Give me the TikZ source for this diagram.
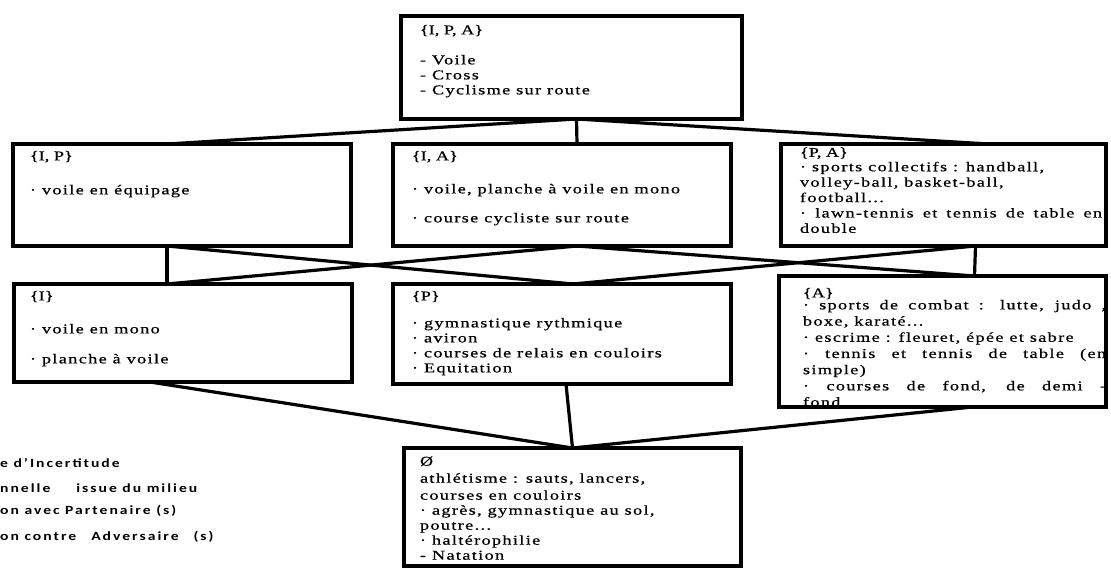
\documentclass[tikz,border=0pt]{standalone}
\usepackage{fontspec}
\setmainfont{Liberation Serif}
\newfontfamily\boxfont[FakeStretch=1.35,LetterSpace=10,FakeBold=0.6]{Liberation Serif}
\newfontfamily\hdfont[FakeStretch=1.35,FakeBold=0.6]{Liberation Serif}
\newfontfamily\legfont[FakeStretch=1.25,LetterSpace=16]{Carlito Bold}
\tikzset{
  box/.style={draw, line width=4pt, inner sep=0pt, outer sep=0pt, anchor=north west},
  txt/.style={inner sep=0pt, outer sep=0pt, anchor=north west, align=left, font=\boxfont\fontsize{13.5}{15}\selectfont},
  link/.style={line width=3.2pt},
  leg/.style={inner sep=0pt, anchor=base west, font=\legfont\fontsize{12.5}{15}\selectfont}
}
\begin{document}
\begin{tikzpicture}[x=1pt,y=-1pt]
\useasboundingbox (0,0) rectangle (1111,570);
% boxes
\node[box, minimum width=341pt, minimum height=103pt] (ipa) at (401,16) {};
\node[box, minimum width=338pt, minimum height=102pt] (ip) at (13,144) {};
\node[box, minimum width=338pt, minimum height=102pt] (ia) at (393,144) {};
\node[box, minimum width=325pt, minimum height=102pt] (pa) at (781,144) {};
\node[box, minimum width=338pt, minimum height=98pt] (i) at (14,284) {};
\node[box, minimum width=338pt, minimum height=100pt] (p) at (393,284) {};
\node[box, minimum width=327pt, minimum height=131pt] (a) at (779,276) {};
\node[box, minimum width=337pt, minimum height=118pt] (o) at (404,448) {};
% texts
\node[txt] (tipa) at (420,25) {{\hdfont\{I, P, A\}}\\[15pt]- Voile\\- Cross\\- Cyclisme sur route};
\node[txt] (tip) at (30,151) {{\hdfont\{I, P\}}\\[19pt]· voile en équipage};
\node[txt] (tia) at (412,151) {{\hdfont\{I, A\}}\\[18pt]· voile, planche à voile en mono\\[14pt]· course cycliste sur route};
\node[txt, font=\boxfont\fontsize{13.5}{15.4}\selectfont, text width=302pt, align=justify] (tpa) at (800,147.5) {{\hdfont\{P, A\}}\\[-1pt]· sports collectifs : handball,\\volley-ball, basket-ball,\\football...\\· lawn-tennis et tennis de table en\linebreak double};
\node[txt] (ti) at (30,291) {{\hdfont\{I\}}\\[18pt]· voile en mono\\[15pt]· planche à voile};
\node[txt] (tp) at (412,291) {{\hdfont\{P\}}\\[12pt]· gymnastique rythmique\\· aviron\\· courses de relais en couloirs\\· Equitation};
\node[txt, font=\boxfont\fontsize{13.5}{16.2}\selectfont, text width=303pt, align=justify] (ta) at (803,288) {{\hdfont\{A\}}\\[-4.2pt]· sports de combat : lutte, judo ,\linebreak boxe, karaté...\\· escrime : fleuret, épée et sabre\\· tennis et tennis de table (en\linebreak simple)\\· courses de fond, de demi -\linebreak fond};
\node[txt] (to) at (420,456.5) {Ø\\[2pt]athlétisme : sauts, lancers,\\[2pt]courses en couloirs\\· agrès, gymnastique au sol,\\poutre...\\· haltérophilie\\- Natation};
% redraw A box border over overflowing text
\draw[line width=4pt] (a.south west) -- (a.south east);
% connectors top
\coordinate (jt) at ([xshift=5pt]ipa.south);
\draw[link] (jt) -- ([xshift=-15pt]ip.north);
\draw[link] (jt) -- ([xshift=15pt]ia.north);
\draw[link] (jt) -- ([xshift=45pt]pa.north);
% connectors middle
\draw[link] ([xshift=-15pt]ip.south) -- ([xshift=-16pt]i.north);
\draw[link] ([xshift=-15pt]ip.south) -- ([xshift=11pt]p.north);
\draw[link] ([xshift=15pt]ia.south) -- ([xshift=-16pt]i.north);
\draw[link] ([xshift=15pt]ia.south) -- ([xshift=32pt]a.north);
\draw[link] ([xshift=32pt]pa.south) -- ([xshift=32pt]a.north);
\draw[link] ([xshift=32pt]pa.south) -- ([xshift=11pt]p.north);
% connectors bottom
\draw[link] ([xshift=-33pt]i.south) -- (o.north);
\draw[link] ([xshift=4pt]p.south) -- (o.north);
\draw[link] ([xshift=30pt]a.south) -- (o.north);
% legend
\node[leg] (l1) at (0,467) {e d’Incertitude};
\node[leg] (l2) at (0,492) {nnelle\hspace{26pt}issue du milieu};
\node[leg] (l3) at (0,514) {on avec Partenaire (s)};
\node[leg] (l4) at (0,540) {on contre\hspace{15pt}Adversaire\hspace{15pt}(s)};
\end{tikzpicture}
\end{document}
